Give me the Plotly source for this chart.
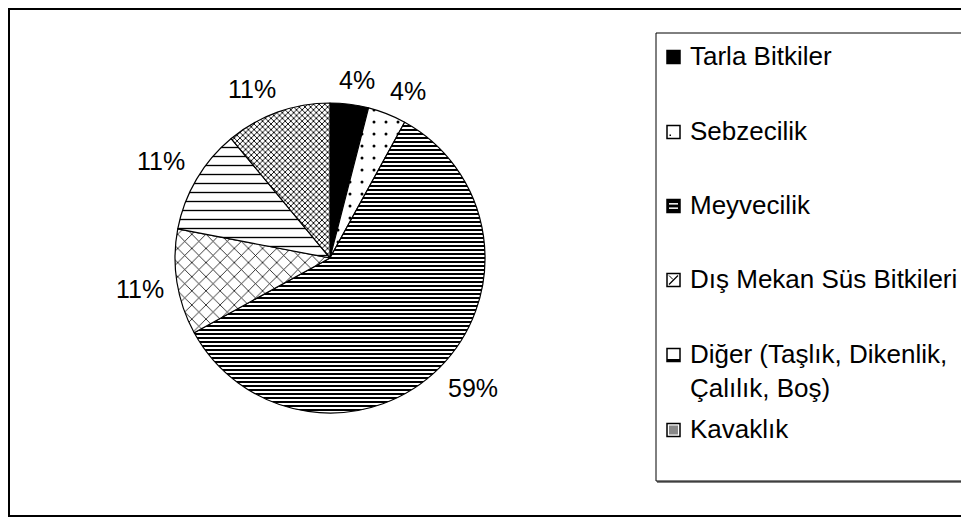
import math
import plotly.graph_objects as go

W, H = 969, 519
OFF = 8  # page offset of the figure inside the browser page

# ---- data ----
categories = ["Tarla Bitkiler", "Sebzecilik", "Meyvecilik",
              "Dış Mekan Süs Bitkileri", "Diğer (Taşlık, Dikenlik, Çalılık, Boş)", "Kavaklık"]
legend_labels = ["Tarla Bitkiler", "Sebzecilik", "Meyvecilik",
                 "Dış Mekan Süs Bitkileri", "Diğer (Taşlık, Dikenlik,<br>Çalılık, Boş)", "Kavaklık"]
percent_values = [4, 4, 59, 11, 11, 11]

# ---- styles ----
slice_colors = ["black", "white", "white", "white", "white", "white"]
pattern_shapes = ["", ".", "-", "x", "-", "x"]
pattern_sizes = [8, 12, 4, 10, 9, 4]
pattern_solidity = [0.5, 0.05, 0.5, 0.15, 0.15, 0.4]

FONT = "Liberation Sans, Arial, sans-serif"
LABEL_SIZE = 25
LEGEND_SIZE = 26


def px(x):
    return (x - OFF) / W


def py(y):
    return 1 - (y - OFF) / H


cx, cy, r = 330, 258, 155

fig = go.Figure()
fig.add_trace(go.Pie(
    labels=categories,
    values=percent_values,
    sort=False,
    direction="clockwise",
    rotation=0,
    domain=dict(x=[px(cx - r), px(cx + r)], y=[py(cy + r), py(cy - r)]),
    marker=dict(
        colors=slice_colors,
        line=dict(color="black", width=1.2),
        pattern=dict(shape=pattern_shapes, size=pattern_sizes,
                     solidity=pattern_solidity, fgcolor="black"),
    ),
    textinfo="none",
    showlegend=False,
    hoverinfo="label+percent",
))

shapes = []
annotations = []

# percentage labels placed outside each slice at its mid-angle
total = sum(percent_values)
cum = 0
gap = 12
for v in percent_values:
    theta = math.radians((cum + v / 2) / total * 360)
    cum += v
    ux, uy = math.sin(theta), -math.cos(theta)
    txt = f"{v}%"
    w = LABEL_SIZE * (0.556 * (len(txt) - 1) + 0.889)
    h = LABEL_SIZE * 0.96
    ax = cx + (r + gap) * ux + max(-1, min(1, 2.5 * ux)) * w / 2
    ay = cy + (r + gap) * uy + max(-1, min(1, 2.5 * uy)) * h / 2
    annotations.append(dict(xref="paper", yref="paper", x=px(ax), y=py(ay),
                            xanchor="center", yanchor="middle", text=txt,
                            showarrow=False,
                            font=dict(family=FONT, size=LABEL_SIZE, color="black")))

# outer frame
shapes.append(dict(type="rect", xref="paper", yref="paper",
                   x0=px(OFF + 1), x1=px(W + 40), y0=py(516), y1=py(OFF + 1),
                   line=dict(color="black", width=2), fillcolor="rgba(0,0,0,0)"))
# legend box
shapes.append(dict(type="rect", xref="paper", yref="paper",
                   x0=px(656), x1=px(W + 40), y0=py(481), y1=py(33),
                   line=dict(color="black", width=1), fillcolor="rgba(0,0,0,0)"))
shapes.append(dict(type="line", xref="paper", yref="paper",
                   x0=px(657), x1=px(W + 40), y0=py(482), y1=py(482),
                   line=dict(color="black", width=1)))

# legend entries
item_centers = [56, 131, 205, 279, 354, 429]
ix0, ix1 = 667, 680
for i, (lab, c) in enumerate(zip(legend_labels, item_centers)):
    ic = c + 1
    y0, y1 = ic - 6.5, ic + 6.5
    fill = "black" if i in (0, 2) else "white"
    shapes.append(dict(type="rect", xref="paper", yref="paper",
                       x0=px(ix0), x1=px(ix1), y0=py(y1), y1=py(y0),
                       line=dict(color="black", width=1.5), fillcolor=fill))
    if i == 1:
        shapes.append(dict(type="rect", xref="paper", yref="paper",
                           x0=px(669.5), x1=px(671), y0=py(y1 - 2.5), y1=py(y1 - 4),
                           line=dict(width=0), fillcolor="black"))
    if i == 2:
        for k in (1, 2):
            yy = y0 + k * 13 / 3
            shapes.append(dict(type="line", xref="paper", yref="paper",
                               x0=px(ix0 + 2), x1=px(ix1 - 2), y0=py(yy), y1=py(yy),
                               line=dict(color="white", width=1.5)))
    if i == 3:
        shapes.append(dict(type="line", xref="paper", yref="paper",
                           x0=px(ix0 + 2), x1=px(ix1 - 2), y0=py(y1 - 2), y1=py(y0 + 2),
                           line=dict(color="black", width=1.2)))
        shapes.append(dict(type="line", xref="paper", yref="paper",
                           x0=px(ix0 + 2), x1=px(ix0 + 6), y0=py(y0 + 2), y1=py(y0 + 6),
                           line=dict(color="black", width=1)))
    if i == 4:
        shapes.append(dict(type="line", xref="paper", yref="paper",
                           x0=px(ix0), x1=px(ix1), y0=py(y1 - 1.5), y1=py(y1 - 1.5),
                           line=dict(color="black", width=2)))
    if i == 5:
        shapes.append(dict(type="rect", xref="paper", yref="paper",
                           x0=px(ix0 + 2), x1=px(ix1 - 2), y0=py(y1 - 2), y1=py(y0 + 2),
                           line=dict(width=0), fillcolor="#888888"))
    ty = (c + c + 33) / 2 if i == 4 else c
    annotations.append(dict(xref="paper", yref="paper", x=px(688), y=py(ty),
                            xanchor="left", yanchor="middle", align="left",
                            text=lab, showarrow=False,
                            font=dict(family=FONT, size=LEGEND_SIZE, color="black")))

fig.update_layout(
    width=W, height=H,
    margin=dict(l=0, r=0, t=0, b=0),
    paper_bgcolor="white",
    plot_bgcolor="white",
    shapes=shapes,
    annotations=annotations,
    showlegend=False,
)

fig.write_html("out.html")
